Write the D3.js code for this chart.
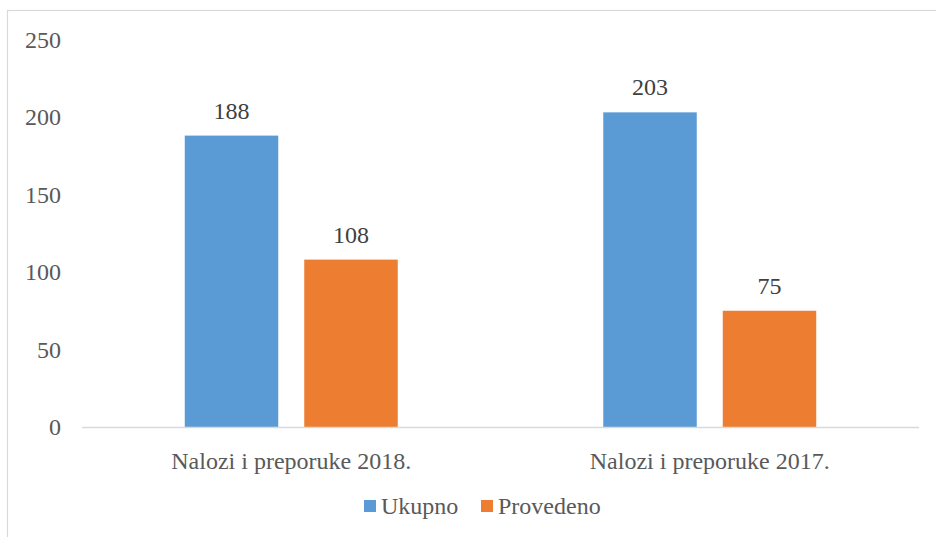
<!DOCTYPE html>
<html>
<head>
<meta charset="utf-8">
<script src="https://cdn.jsdelivr.net/npm/d3@7.9.0/dist/d3.min.js"></script>
<style>
  html, body { margin: 0; padding: 0; background: #fff; }
  svg { display: block; }
</style>
</head>
<body>
<div id="chart"></div>
<script>
// chart data
const categories = ["Nalozi i preporuke 2018.", "Nalozi i preporuke 2017."];
const seriesNames = ["Ukupno", "Provedeno"];
const ukupno = [188, 203];
const provedeno = [108, 75];
const yTicks = [0, 50, 100, 150, 200, 250];

const colors = { Ukupno: "#5B9BD5", Provedeno: "#ED7D31" };
const serif = "Liberation Serif";
const fontSize = "24px";

const width = 936, height = 537;
const plot = { left: 82, right: 919, top: 39.5, bottom: 427 };

const svg = d3.select("#chart").append("svg")
    .attr("width", width)
    .attr("height", height)
    .style("font-family", serif);

// chart area border
svg.append("rect")
    .attr("x", 7.5)
    .attr("y", 10.5)
    .attr("width", 940)
    .attr("height", 540)
    .attr("fill", "none")
    .attr("stroke", "#d9d9d9")
    .attr("stroke-width", 1.2);

const x0 = d3.scaleBand()
    .domain(categories)
    .range([plot.left, plot.right])
    .padding(0);

const x1 = d3.scaleBand()
    .domain(seriesNames)
    .range([0, x0.bandwidth()])
    .paddingInner(0.2176)
    .paddingOuter(0.86);

const y = d3.scaleLinear()
    .domain([0, 250])
    .range([plot.bottom, plot.top]);

// y tick labels (no axis line, no gridlines)
svg.append("g")
    .selectAll("text")
    .data(yTicks)
    .join("text")
    .attr("x", 61)
    .attr("y", d => y(d))
    .attr("dy", "0.35em")
    .attr("text-anchor", "end")
    .style("font-family", serif)
    .style("font-size", fontSize)
    .style("fill", "#595959")
    .text(d => d);

const rows = categories.map((c, i) => ({
    cat: c,
    values: [
        { key: "Ukupno", value: ukupno[i] },
        { key: "Provedeno", value: provedeno[i] }
    ]
}));

const groups = svg.append("g")
    .selectAll("g")
    .data(rows)
    .join("g")
    .attr("transform", d => `translate(${x0(d.cat)},0)`);

groups.selectAll("rect")
    .data(d => d.values)
    .join("rect")
    .attr("x", d => x1(d.key))
    .attr("width", x1.bandwidth())
    .attr("y", d => y(d.value))
    .attr("height", d => y(0) - y(d.value))
    .attr("fill", d => colors[d.key]);

groups.selectAll("text")
    .data(d => d.values)
    .join("text")
    .attr("x", d => x1(d.key) + x1.bandwidth() / 2)
    .attr("y", d => y(d.value) - 17)
    .attr("text-anchor", "middle")
    .style("font-family", serif)
    .style("font-size", fontSize)
    .style("fill", "#404040")
    .text(d => d.value);

// baseline
svg.append("line")
    .attr("x1", plot.left)
    .attr("x2", plot.right)
    .attr("y1", y(0) + 0.5)
    .attr("y2", y(0) + 0.5)
    .attr("stroke", "#d9d9d9")
    .attr("stroke-width", 1.5);

// category labels
svg.append("g")
    .selectAll("text")
    .data(categories)
    .join("text")
    .attr("x", d => x0(d) + x0.bandwidth() / 2)
    .attr("y", 469)
    .attr("text-anchor", "middle")
    .style("font-family", serif)
    .style("font-size", fontSize)
    .style("fill", "#595959")
    .text(d => d);

// legend
const legendX = [364, 481];
const legend = svg.append("g")
    .selectAll("g")
    .data(seriesNames)
    .join("g")
    .attr("transform", (d, i) => `translate(${legendX[i]},500)`);

legend.append("rect")
    .attr("width", 12)
    .attr("height", 12)
    .attr("fill", d => colors[d]);

legend.append("text")
    .attr("x", 17)
    .attr("y", 14)
    .style("font-family", serif)
    .style("font-size", fontSize)
    .style("fill", "#595959")
    .text(d => d);
</script>
</body>
</html>
